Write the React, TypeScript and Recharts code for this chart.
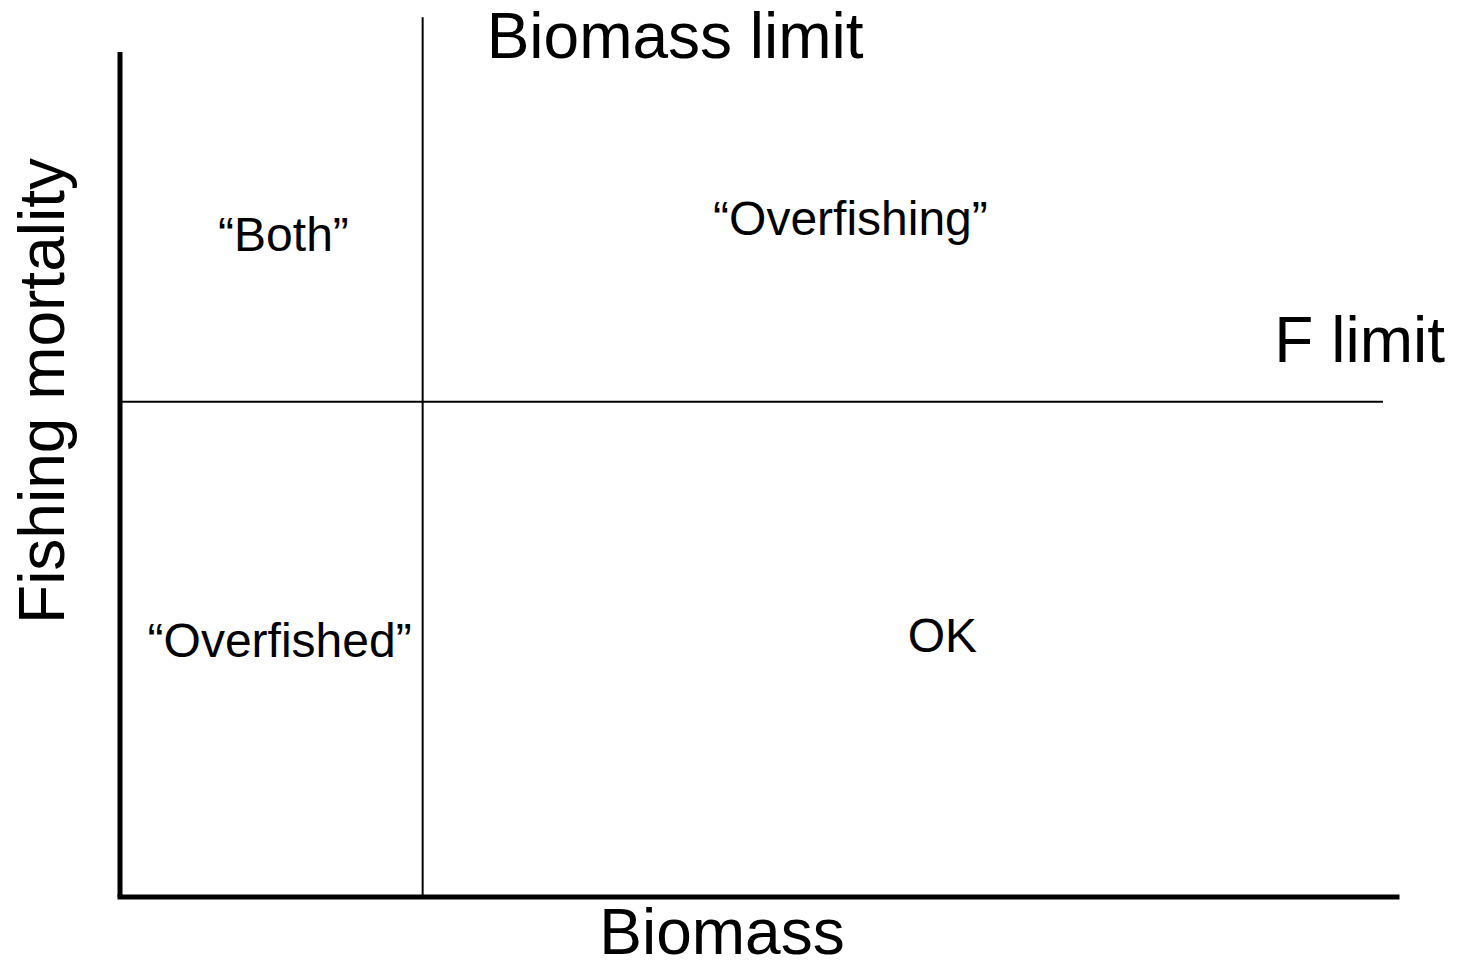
import { ReferenceLine, Scatter, ScatterChart, XAxis, YAxis } from "recharts";

// chart coordinates run 0..100 on both axes, origin at the axis corner
const biomassLimit = 23.7;
const fLimit = 58.6;
const biomassLineTop = 104.1;
const fLineEnd = 98.9;

const quadrantNames = ["\u201cBoth\u201d", "\u201cOverfishing\u201d", "\u201cOverfished\u201d", "OK"];
const quadrantX = [12.8, 57.2, 12.5, 64.4];
const quadrantY = [78.5, 80.4, 30.5, 31.0];

const quadrants = quadrantNames.map((name, i) => ({ name, x: quadrantX[i], y: quadrantY[i] }));

const FONT = "'Liberation Sans', Arial, Helvetica, sans-serif";
const BIG = 64;
const SMALL = 48;

const QuadrantText = (props: any) => (
  <text
    x={props.cx}
    y={props.cy}
    dy={SMALL * 0.36}
    textAnchor="middle"
    fontFamily={FONT}
    fontSize={SMALL}
    fill="#000"
  >
    {props.payload.name}
  </text>
);

export default function App() {
  return (
    <div style={{ position: "absolute", left: 0, top: 0, background: "#fff" }}>
      <ScatterChart width={1457} height={968} margin={{ top: 52, right: 60, bottom: 0, left: 0 }}>
        <XAxis
          type="number"
          dataKey="x"
          domain={[0, 100]}
          height={71}
          tick={false}
          tickLine={false}
          axisLine={{ stroke: "#000", strokeWidth: 5, strokeLinecap: "square" }}
          label={{
            content: (p: any) => (
              <text x={p.viewBox.x + 602} y={p.viewBox.y + 57} textAnchor="middle" fontFamily={FONT} fontSize={BIG} fill="#000">
                Biomass
              </text>
            ),
          }}
        />
        <YAxis
          type="number"
          dataKey="y"
          domain={[0, 100]}
          width={120}
          tick={false}
          tickLine={false}
          axisLine={{ stroke: "#000", strokeWidth: 5 }}
          label={{
            content: (p: any) => {
              const lx = p.viewBox.x + p.viewBox.width - 56;
              const ly = p.viewBox.y + 339;
              return (
                <text x={lx} y={ly} transform={`rotate(-90, ${lx}, ${ly})`} textAnchor="middle" fontFamily={FONT} fontSize={BIG} fill="#000">
                  Fishing mortality
                </text>
              );
            },
          }}
        />
        <ReferenceLine
          segment={[{ x: biomassLimit, y: 0 }, { x: biomassLimit, y: biomassLineTop }]}
          ifOverflow="visible"
          stroke="#000"
          strokeWidth={2}
          label={{
            content: (p: any) => (
              <text x={p.viewBox.x + 64} y={p.viewBox.y + 41} textAnchor="start" fontFamily={FONT} fontSize={BIG} fill="#000">
                Biomass limit
              </text>
            ),
          }}
        />
        <ReferenceLine
          segment={[{ x: 0, y: fLimit }, { x: fLineEnd, y: fLimit }]}
          ifOverflow="visible"
          stroke="#000"
          strokeWidth={2}
          label={{
            content: (p: any) => (
              <text x={p.viewBox.x + p.viewBox.width + 62} y={p.viewBox.y - 40} textAnchor="end" fontFamily={FONT} fontSize={BIG} fill="#000">
                F limit
              </text>
            ),
          }}
        />
        <Scatter data={quadrants} shape={QuadrantText} isAnimationActive={false} />
      </ScatterChart>
    </div>
  );
}
